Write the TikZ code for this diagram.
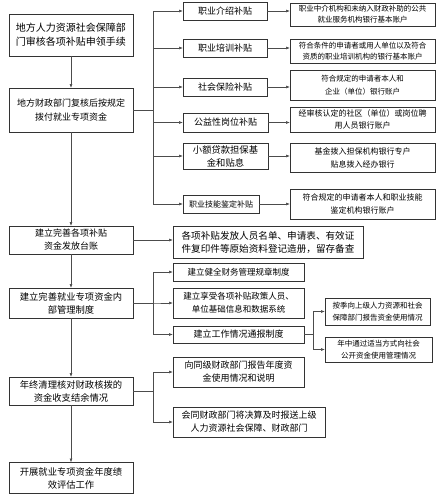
\documentclass[tikz,border=0pt]{standalone}
\usepackage{fontspec}
\newfontfamily\cjk{Noto Sans CJK SC}
\usetikzlibrary{arrows.meta}
\tikzset{
  box/.style={draw=black!80, line width=0.6pt, inner sep=0pt, outer sep=0pt, align=center, text=black},
  conn/.style={draw=black!70, line width=0.6pt},
  arr/.style={conn, -{Latex[length=4pt,width=3pt]}},
}
\newcommand{\fs}[2]{\cjk\fontsize{#1}{#2}\selectfont}
\begin{document}
\begin{tikzpicture}[x=1pt,y=-1pt]
\useasboundingbox (0,0) rectangle (440,495);
% left column
\node[box, minimum width=124, minimum height=42, font=\fs{10}{14}] (L1) at (71,35) {地方人力资源社会保障部\\门审核各项补贴申领手续};
\node[box, minimum width=124, minimum height=44, font=\fs{9}{14}] (L2) at (71,110) {地方财政部门复核后按规定\\拨付就业专项资金};
\node[box, minimum width=124, minimum height=28, font=\fs{9}{13}] (L3) at (71,240) {建立完善各项补贴\\资金发放台账};
\node[box, minimum width=124, minimum height=30, font=\fs{9.3}{13}] (L4) at (71,303) {建立完善就业专项资金内\\部管理制度};
\node[box, minimum width=124, minimum height=28, font=\fs{9.3}{13}] (L5) at (71,391) {年终清理核对财政核拨的\\资金收支结余情况};
\node[box, minimum width=124, minimum height=31, font=\fs{9.3}{13}] (L6) at (71,478) {开展就业专项资金年度绩\\效评估工作};
% subsidy types
\node[box, minimum width=84, minimum height=18, font=\fs{9}{12}] (R1) at (225,11) {职业介绍补贴};
\node[box, minimum width=84, minimum height=18, font=\fs{9}{12}] (R2) at (225,48) {职业培训补贴};
\node[box, minimum width=84, minimum height=18, font=\fs{9}{12}] (R3) at (225,87) {社会保险补贴};
\node[box, minimum width=85, minimum height=19, font=\fs{9}{12}] (R4) at (225.5,122.5) {公益性岗位补贴};
\node[box, minimum width=85, minimum height=26, font=\fs{9.3}{13}] (R5) at (225.5,156) {小额贷款担保基\\金和贴息};
\node[box, minimum width=76, minimum height=18, font=\fs{8}{12}] (R6) at (221,204) {职业技能鉴定补贴};
% destinations
\node[box, minimum width=145, minimum height=23, font=\fs{7.5}{11}] (D1) at (362.5,14.5) {职业中介机构和未纳入财政补助的公共\\就业服务机构银行基本账户};
\node[box, minimum width=145, minimum height=24, font=\fs{7.5}{11}] (D2) at (362.5,51) {符合条件的申请者或用人单位以及符合\\资质的职业培训机构的银行基本账户};
\node[box, minimum width=145, minimum height=30, font=\fs{7.5}{13}] (D3) at (362.5,85) {符合规定的申请者本人和\\企业（单位）银行账户};
\node[box, minimum width=145, minimum height=25, font=\fs{8}{12}] (D4) at (362.5,119.5) {经审核认定的社区（单位）或岗位聘\\用人员银行账户};
\node[box, minimum width=145, minimum height=29, font=\fs{8}{13}] (D5) at (362.5,157.5) {基金拨入担保机构银行专户\\贴息拨入经办银行};
\node[box, minimum width=145, minimum height=30, font=\fs{8}{13}] (D6) at (362.5,204) {符合规定的申请者本人和职业技能\\鉴定机构银行账户};
% ledger detail
\node[box, minimum width=190, minimum height=32, font=\fs{9.6}{13}] (K1) at (268,242) {各项补贴发放人员名单、申请表、有效证\\件复印件等原始资料登记造册，留存备查};
% management
\node[box, minimum width=131, minimum height=18, font=\fs{8.5}{12}] (M1) at (238.5,272) {建立健全财务管理规章制度};
\node[box, minimum width=131, minimum height=30, font=\fs{8.5}{13}] (M2) at (238.5,303) {建立享受各项补贴政策人员、\\单位基础信息和数据系统};
\node[box, minimum width=131, minimum height=17, font=\fs{9}{12}] (M3) at (238.5,334.5) {建立工作情况通报制度};
\node[box, minimum width=105, minimum height=27, font=\fs{7.5}{11.5}] (N1) at (377.5,311.5) {按季向上级人力资源和社会\\保障部门报告资金使用情况};
\node[box, minimum width=107, minimum height=25, font=\fs{7.5}{11.5}] (N2) at (378.5,349.5) {年中通过适当方式向社会\\公开资金使用管理情况};
% year end
\node[box, minimum width=131, minimum height=30, font=\fs{9}{13}] (P1) at (238.5,372) {向同级财政部门报告年度资\\金使用情况和说明};
\node[box, minimum width=152, minimum height=30, font=\fs{9}{13}] (P2) at (249,422) {会同财政部门将决算及时报送上级\\人力资源社会保障、财政部门};
% vertical main flow
\draw[arr] (L1) -- (L2);
\draw[arr] (L2) -- (L3);
\draw[arr] (L3) -- (L4);
\draw[arr] (L4) -- (L5);
\draw[arr] (L5) -- (L6);
% branches from L2
\foreach \r in {R1,R2,R3,R4,R5,R6}{
  \draw[arr] (L2.east) -- ++(20,0) |- (\r.west);
}
\draw[arr] (R1.east) -- (R1.east -| D1.west);
\draw[arr] (R2.east) -- (R2.east -| D2.west);
\draw[arr] (R3.east) -- (R3.east -| D3.west);
\draw[arr] (R4.east) -- (R4.east -| D4.west);
\draw[arr] (R5.east) -- (R5.east -| D5.west);
\draw[arr] (R6.east) -- (R6.east -| D6.west);
% ledger
\draw[arr] (L3.east) -- (L3.east -| K1.west);
% management
\foreach \m in {M1,M2,M3}{
  \draw[arr] (L4.east) -- ++(20,0) |- (\m.west);
}
\draw[arr] (M3.east) -- ++(9,0) |- (N1.west);
\draw[arr] (M3.east) -- ++(9,0) |- (N2.west);
% year end
\draw[arr] (L5.east) -- ++(20,0) |- (P1.west);
\draw[arr] (L5.east) -- ++(20,0) |- (P2.west);
\end{tikzpicture}
\end{document}
